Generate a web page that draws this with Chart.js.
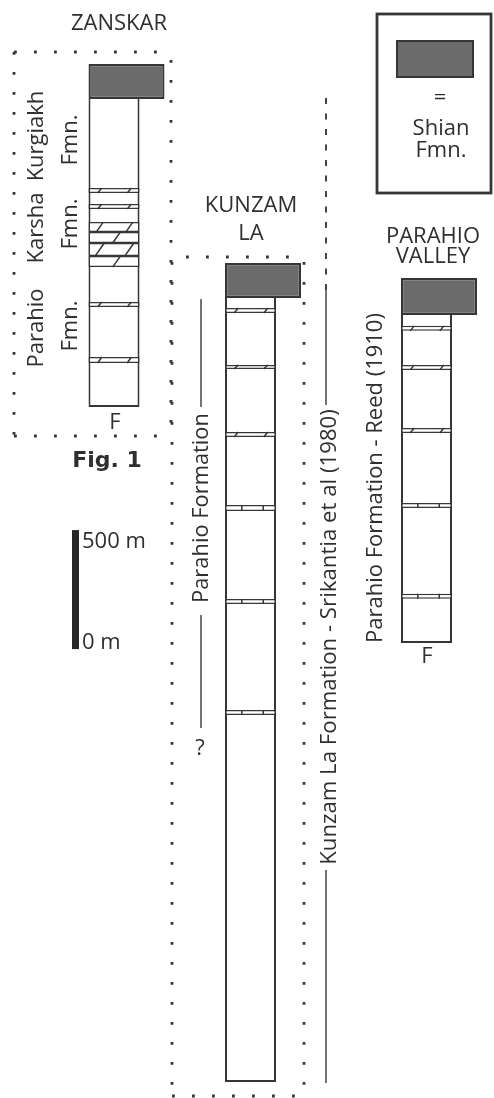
<!DOCTYPE html>
<html>
<head>
<meta charset="utf-8">
<title>Zanskar / Kunzam La / Parahio Valley sections</title>
<script src="https://cdn.jsdelivr.net/npm/chart.js@4.4.1/dist/chart.umd.min.js"></script>
<style>
  html, body { margin: 0; padding: 0; background: #fff; }
  #wrap { width: 494px; height: 1098px; }
</style>
</head>
<body>
<div id="wrap"><canvas id="strat" width="494" height="1098"></canvas></div>
<script>
/* ── Data (metres) ── */
const sections = ['ZANSKAR', 'KUNZAM LA', 'PARAHIO VALLEY'];
const sectionBase = [2836, 0, 1845];          // base of each log on a common datum
const sectionThickness = [1294, 3294, 1378];  // white part of the log
const shianThickness = [147, 147, 155];       // Shian Fmn. cap

// marker beds, [bottom, top] in metres above the base of the log
const zanskarBeds = [[185, 210], [420, 441], [588, 634], [634, 689], [689, 735], [735, 777], [832, 853], [899, 920]];
const zanskarMarks = ['slash2', 'slash2', 'slash1', 'slash2', 'slash1', 'slash2', 'slash2', 'slash2'];
const kunzamBeds = [[1542, 1563], [2008, 2029], [2399, 2424], [2710, 2731], [2996, 3013], [3231, 3252]];
const kunzamMarks = ['tick', 'tick', 'tick', 'slash2', 'slash2', 'slash2'];
const parahioBeds = [[185, 206], [567, 588], [882, 903], [1147, 1168], [1311, 1332]];
const parahioMarks = ['tick', 'tick', 'slash2', 'slash2', 'slash2'];

const scaleBar = 500; // m

(function(){
  /* ── Layout ── */
  const colX = [114, 250.5, 426.5];
  const COL_W = 51, SHIAN_W = 76;
  const Y_MIN = -67, Y_MAX = 4546;
  const SCALE_X = 75.5, SCALE_BASE = 1819;
  const ink = '#363636';
  const txt = '#2f2f2f';
  const FONT = "'Open Sans', 'Noto Sans', sans-serif";

  const colData = sections.map((s, i) => ({ x: colX[i], y: [sectionBase[i], sectionBase[i] + sectionThickness[i]] }));
  const shianData = sections.map((s, i) => {
    const bottom = sectionBase[i] + sectionThickness[i];
    return { x: colX[i] - COL_W / 2 + SHIAN_W / 2, y: [bottom, bottom + shianThickness[i]] };
  });

  const bedSets = [zanskarBeds, kunzamBeds, parahioBeds];
  const markSets = [zanskarMarks, kunzamMarks, parahioMarks];
  const bedData = [], bedKind = [];
  bedSets.forEach((beds, i) => beds.forEach((b, j) => {
    bedData.push({ x: colX[i], y: [sectionBase[i] + b[0], sectionBase[i] + b[1]] });
    bedKind.push(markSets[i][j]);
  }));

  /* ── helpers ── */
  function line(ctx, x1, y1, x2, y2) {
    ctx.beginPath(); ctx.moveTo(x1, y1); ctx.lineTo(x2, y2); ctx.stroke();
  }
  function text(ctx, s, x, y, align, font) {
    ctx.font = font || ('22px ' + FONT);
    ctx.textAlign = align || 'center';
    ctx.textBaseline = 'alphabetic';
    ctx.fillText(s, x, y);
  }
  // rotated text reading bottom-to-top; x = baseline, y = centre of the run
  function vtext(ctx, s, x, y, len) {
    ctx.save();
    ctx.translate(x, y);
    ctx.rotate(-Math.PI / 2);
    let size = 22;
    ctx.font = size + 'px ' + FONT;
    if (len) {
      size = size * len / ctx.measureText(s).width;
      ctx.font = size.toFixed(2) + 'px ' + FONT;
    }
    ctx.textAlign = 'center';
    ctx.textBaseline = 'alphabetic';
    ctx.fillText(s, 0, 0);
    ctx.restore();
  }

  /* ── Decorations: frames, labels, hatching ── */
  const decor = {
    id: 'decor',
    beforeDatasetsDraw(chart) {
      const ctx = chart.ctx;
      ctx.save();
      ctx.strokeStyle = ink;
      ctx.lineWidth = 2.8;
      ctx.lineCap = 'butt';
      ctx.setLineDash([2.8, 17.2]);
      // Zanskar frame
      line(ctx, 14, 52, 171, 52);
      line(ctx, 14, 52, 14, 436);
      line(ctx, 171, 60, 171, 436);
      line(ctx, 14, 436, 171, 436);
      // Kunzam La frame
      line(ctx, 186, 257, 304, 257);
      line(ctx, 172, 262, 172, 1096);
      line(ctx, 304, 262, 304, 1096);
      line(ctx, 172, 1096, 304, 1096);
      ctx.restore();
    },
    afterDatasetsDraw(chart) {
      const ctx = chart.ctx;
      ctx.save();

      /* hatch marks in marker beds */
      ctx.strokeStyle = ink;
      ctx.lineWidth = 1.5;
      const meta = chart.getDatasetMeta(2);
      meta.data.forEach((bar, i) => {
        const p = bar.getProps(['x', 'y', 'base', 'width'], true);
        const top = Math.min(p.y, p.base), bot = Math.max(p.y, p.base);
        const left = p.x - p.width / 2, w = p.width, h = bot - top;
        const kind = bedKind[i];
        const at = kind === 'slash1' ? [0.55] : kind === 'tick' ? [0.33, 0.75] : [0.22, 0.8];
        at.forEach(f => {
          const cx = left + w * f;
          if (kind === 'tick') {
            line(ctx, cx, top, cx, bot);
          } else {
            const dx = Math.max(2, h * 0.35);
            line(ctx, cx - dx, bot, cx + dx, top);
          }
        });
      });

      /* legend box */
      ctx.lineWidth = 2.8;
      ctx.strokeRect(377, 14, 114, 179);
      ctx.fillStyle = '#6b6b6b';
      ctx.fillRect(397, 41, 76, 36);
      ctx.lineWidth = 2;
      ctx.strokeRect(397, 41, 76, 36);

      /* labels */
      ctx.fillStyle = txt;
      text(ctx, '=', 440, 104);
      text(ctx, 'Shian', 441, 135);
      text(ctx, 'Fmn.', 441, 157);

      text(ctx, 'ZANSKAR', 119, 30);
      text(ctx, 'KUNZAM', 251, 212);
      text(ctx, 'LA', 251, 240);
      text(ctx, 'PARAHIO', 433, 243);
      text(ctx, 'VALLEY', 433, 263);

      text(ctx, 'F', 115, 429);
      text(ctx, 'F', 427, 663);
      text(ctx, 'Fig. 1', 107, 467, 'center', "bold 22px 'DejaVu Sans', sans-serif");
      text(ctx, '500 m', 82, 548, 'left');
      text(ctx, '0 m', 82, 649, 'left');
      text(ctx, '?', 200, 755);

      // Zanskar formation names
      vtext(ctx, 'Kurgiakh', 43, 136);
      vtext(ctx, 'Fmn.', 77, 140);
      vtext(ctx, 'Karsha', 43, 228);
      vtext(ctx, 'Fmn.', 77, 224);
      vtext(ctx, 'Parahio', 43, 328);
      vtext(ctx, 'Fmn.', 77, 326);

      // long vertical labels
      vtext(ctx, 'Parahio Formation', 208, 508, 190);
      vtext(ctx, 'Kunzam La Formation - Srikantia et al (1980)', 336, 637, 456);
      vtext(ctx, 'Parahio Formation - Reed (1910)', 382, 478, 330);

      ctx.strokeStyle = '#444';
      ctx.lineWidth = 1.5;
      line(ctx, 201, 299, 201, 407);
      line(ctx, 201, 615, 201, 728);
      line(ctx, 326, 290, 326, 405);
      line(ctx, 326, 870, 326, 1083);
      ctx.lineWidth = 2;
      ctx.setLineDash([6, 9.5]);
      line(ctx, 326, 98, 326, 290);

      ctx.restore();
    }
  };

  new Chart(document.getElementById('strat'), {
    type: 'bar',
    data: {
      datasets: [
        { label: 'Section', data: colData, backgroundColor: '#fff', borderColor: ink, borderWidth: 2, borderSkipped: 'end', barThickness: COL_W, order: 3 },
        { label: 'Shian Fmn.', data: shianData, backgroundColor: '#6b6b6b', borderColor: ink, borderWidth: 2.2, barThickness: SHIAN_W, order: 2 },
        { label: 'Marker beds', data: bedData, backgroundColor: '#fff', borderColor: ink, borderWidth: 1.5, barThickness: COL_W, order: 1 },
        { label: '500 m', data: [{ x: SCALE_X, y: [SCALE_BASE, SCALE_BASE + scaleBar] }], backgroundColor: '#262626', borderWidth: 0, barThickness: 7, order: 0 },
      ],
    },
    options: {
      responsive: false,
      animation: false,
      events: [],
      layout: { padding: 0 },
      datasets: { bar: { grouped: false, borderSkipped: false, clip: false, inflateAmount: 0 } },
      plugins: { legend: { display: false }, tooltip: { enabled: false } },
      scales: {
        x: { type: 'linear', min: 0, max: 494, offset: false, display: false },
        y: { type: 'linear', min: Y_MIN, max: Y_MAX, display: false },
      },
    },
    plugins: [decor],
  });
})();
</script>
</body>
</html>
